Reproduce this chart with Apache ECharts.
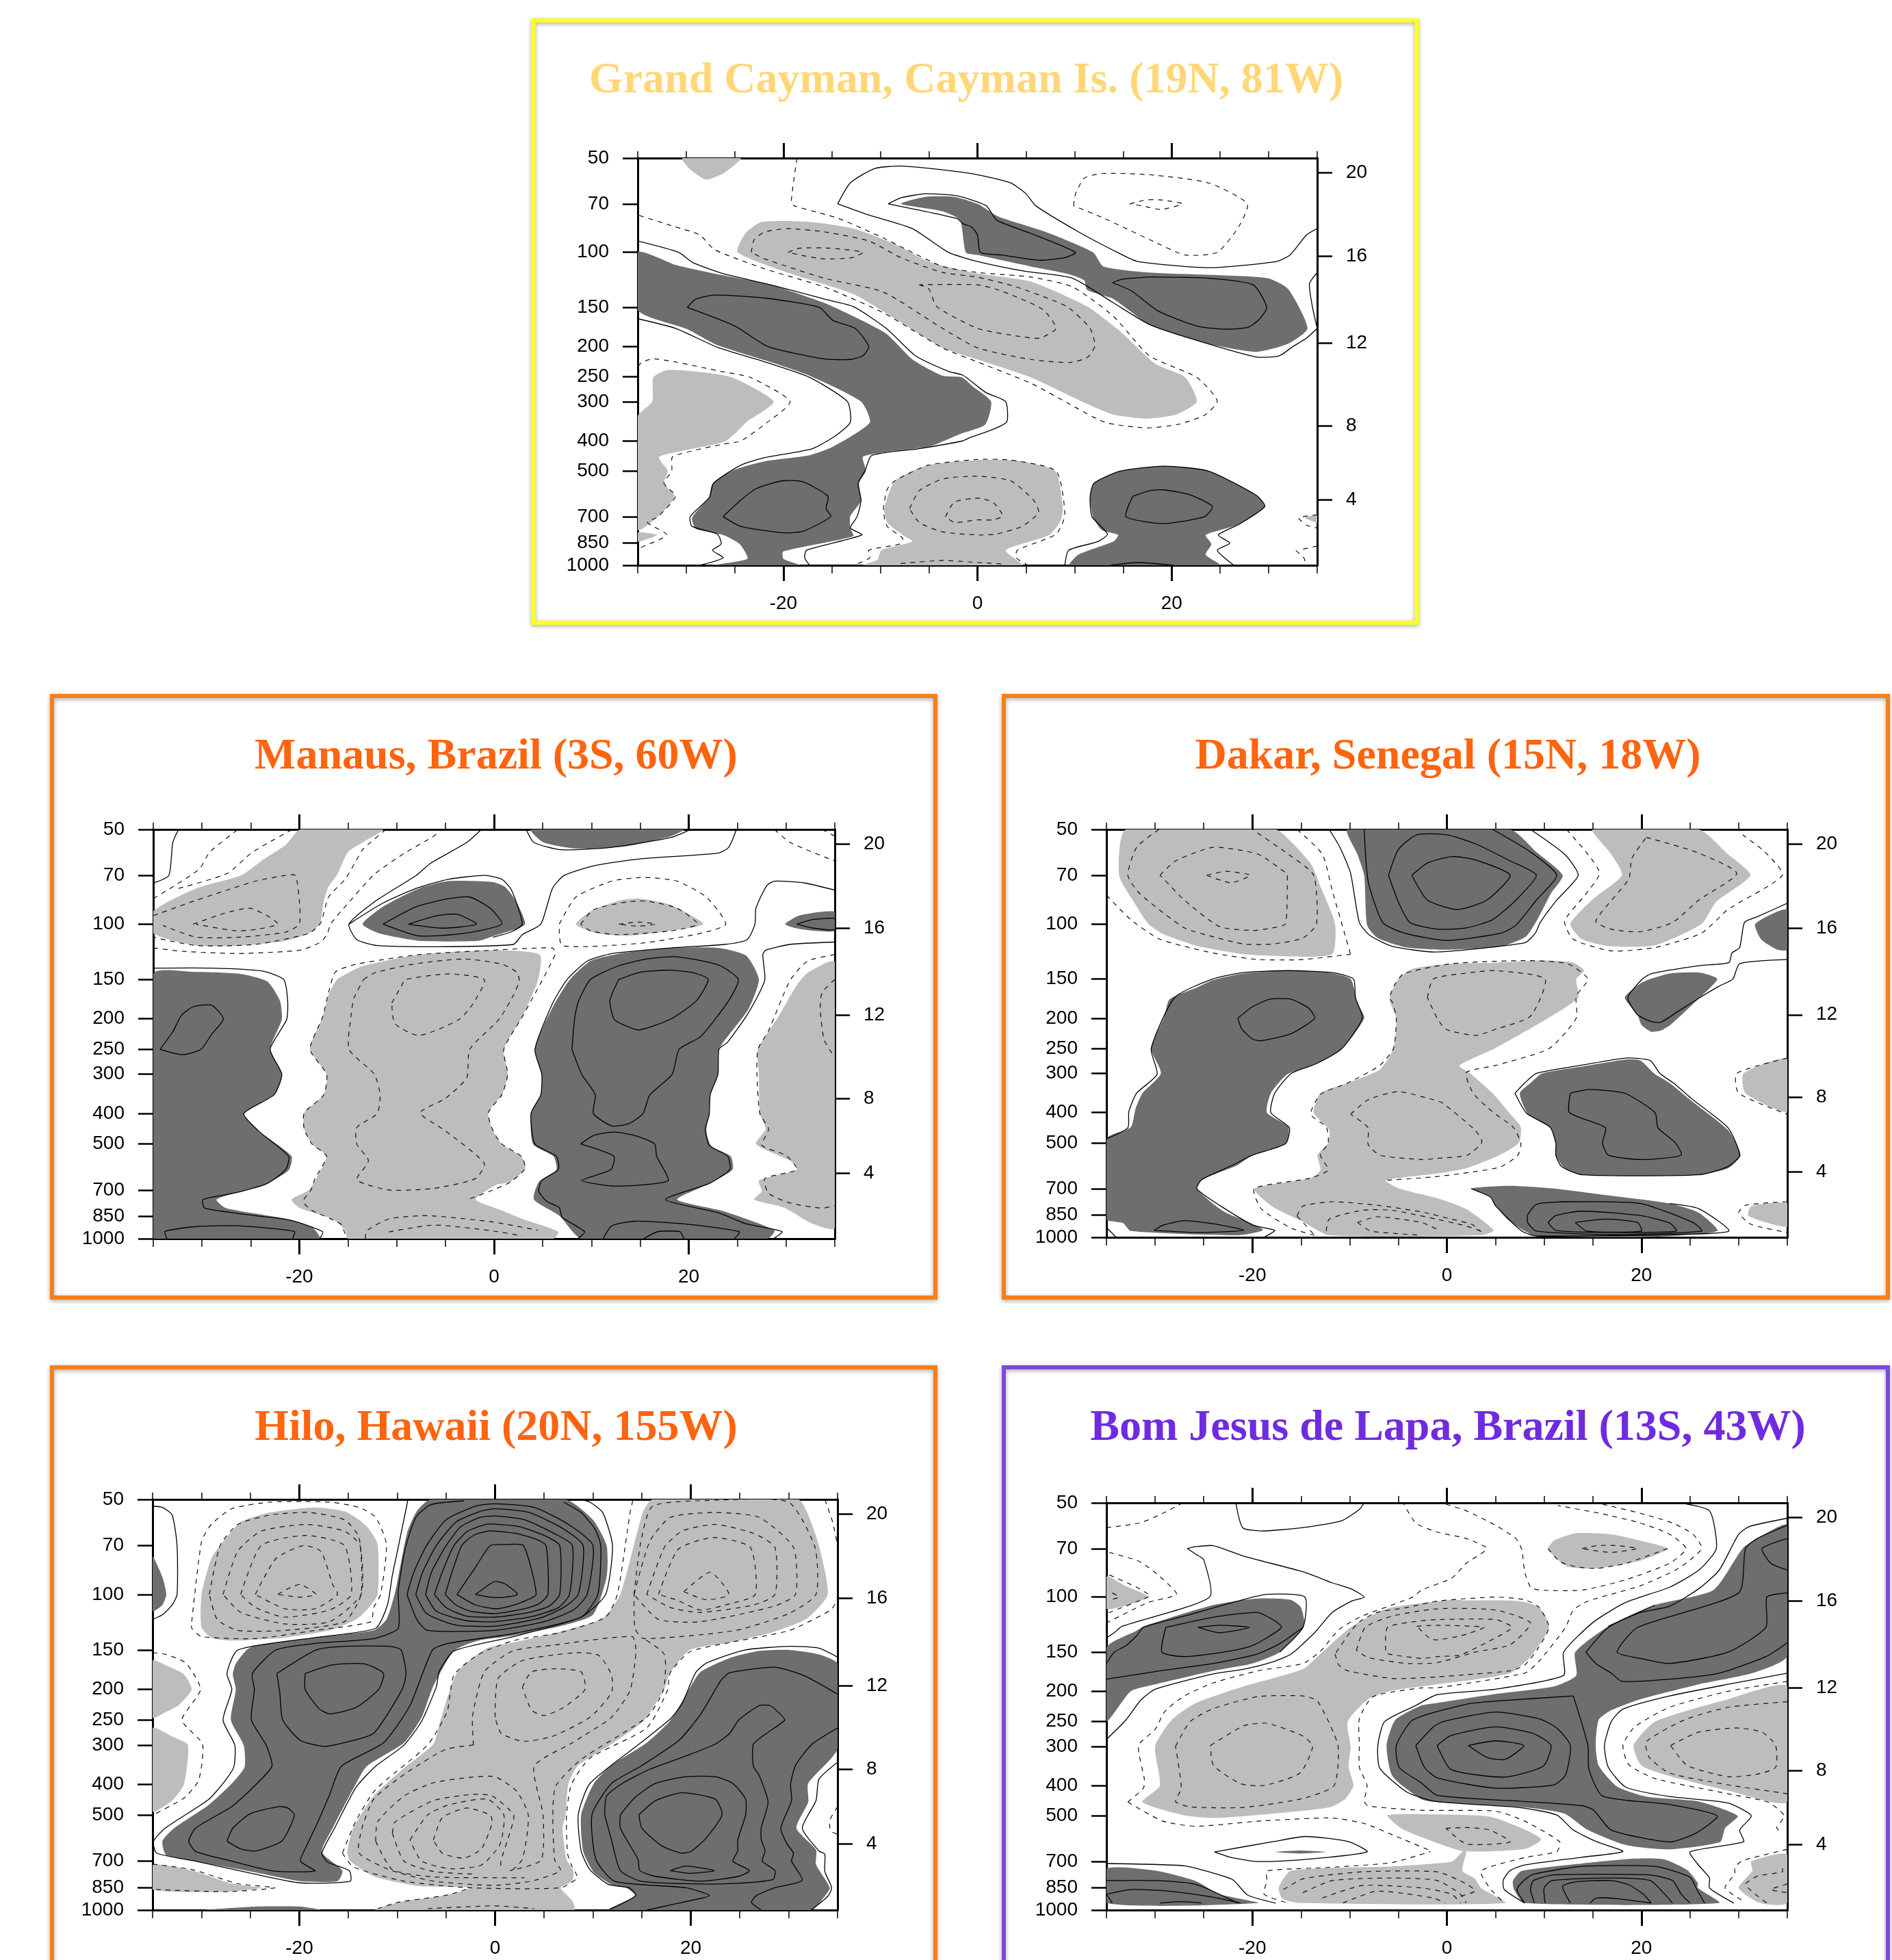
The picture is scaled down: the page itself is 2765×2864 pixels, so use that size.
<!DOCTYPE html>
<html><head><meta charset="utf-8"><style>html,body{margin:0;padding:0;background:#fff}#c{width:2765px;height:2864px}</style>
<script src="https://cdn.jsdelivr.net/npm/echarts@6/dist/echarts.min.js"></script></head><body><div id="c"></div>
<script>
const lagMajor=[-20,0,20];
const pressureTicks=[50,70,100,150,200,250,300,400,500,700,850,1000];
const heightKm=[4,8,12,16,20];
const heightPressure=[618,358,195,103,55.6];

const caymanDark=[
[-35,100,-31,110,-26.5,118,-21.3,127,-15.8,145,-12.8,160,-9.4,182,-6.7,220,-3.6,248,-1.6,251,-.5,268,1.4,300,.8,355,-1.8,381,-4.8,416,-9.4,435,-11.8,450,-11.5,500,-12.2,546,-12,622,-13.1,697,-13.1,761,-12.8,807,-20,903,-20,953,-18.3,1000,-27.3,1000,-23.7,953,-24.5,855,-26.2,800,-29,765,-29.4,705,-27.7,610,-27.3,550,-25,495,-21.9,465,-17.3,445,-14.9,418,-11.1,350,-12,300,-17.3,248,-21,226,-26.8,198,-29.9,176,-35,153],
[-7.9,70,-5.4,66.5,-2.4,66.5,0,70,2.2,77,7,86,11.9,100,13,111,17.7,116,23.8,118,29.9,121,32,131,34,175,32,196,28.7,208,23.8,196,17.7,170,14,141,11.3,132,11,123,9.2,117,5.5,111,0,102,-1.2,100,-1.8,79,-3.6,74],
[12,547,14.7,500,19.2,482,23.8,500,28.7,597,29.6,649,26.9,741,23.5,800,24.1,855,23.5,925,25,1000,9.5,1000,10.4,925,14,840,14.5,800,12.8,772,11.9,699,11.6,606]];
const caymanLight=[
[-30.4,50,-29.7,54,-28,58.5,-26.2,56,-24.4,50],
[-24.7,100,-23.9,87,-22.2,80,-17.3,80,-12.8,84,-8.2,95,-5.1,107,-.6,116,5.5,124,11.3,149,14.7,179,18.3,227,21.4,251,22.6,300,20.5,330,17.4,340,14,330,11,302,5.5,251,0,220,-3.6,202,-8.2,165,-12.8,136,-18.9,118],
[-35,335,-33.5,300,-33.4,251,-32,238,-29.3,240,-25.3,251,-21,300,-23.8,349,-26,402,-32.8,450,-31.9,500,-32.3,547,-31.2,602,-32.9,699,-35,770],
[-35,785,-33,800,-35,840],
[-9.6,659,-8.5,537,-5.1,479,0,461,4,463,8,500,8.8,649,8.6,716,7.4,800,2.9,895,4.6,1000,-11.8,1000,-10.3,960,-9.9,895,-6.7,840,-7.7,800,-9.3,730],
[33.7,705,35,690,35,730]];
const caymanSolid=[
[-14.4,70,-13.1,60,-10.6,54,-7.9,53,-3.6,54.5,0,56.5,3.4,60,5,65,6,71,10.4,86,14.4,100,16.5,107,23.8,112,30.8,107,32.2,102,33.9,88,35,84],
[-14.4,70,-11.2,76,-6.7,84,-3,100,0,107,4.9,115,9.8,121,14,145,17.7,170,22.3,190,28.7,216,31.1,214,32.5,200,33.9,188,35,175],
[35,116,34.2,126,34.5,149,35,175],
[-9.2,70,-7.9,67,-5.4,65,-2.1,66,.9,71,2,79,5.5,87,10.1,100,9,104,6.4,106,2.5,102,.3,100,0,88,-.6,83,-1.5,81,-2.1,78,-9.2,70],
[13.9,125,14.9,122,17.7,120,23.8,121,28.4,127,29.8,150,29,164,27.8,174,25.3,176,22.6,172,18.6,154,15.9,133,13.9,125],
[-35,92,-30.8,100,-29.3,108,-26.2,117,-21.3,127,-15.8,141,-12.8,149,-9.4,175,-6.4,214,-3,240,-1.5,247,0,268,.9,281,2.9,300,3,349,.9,375,-.6,389,-1.6,401,-6,424,-10.9,446,-11.6,500,-12.3,547,-12,620,-12.4,699,-13.1,760,-11.9,800,-17.6,895,-17.8,947,-17.3,1000],
[-35,163,-31.1,175,-26.8,201,-21.9,224,-17.3,251,-13.4,300,-13.1,349,-14.6,385,-17,424,-21.9,453,-24.4,479,-27.2,547,-27.6,606,-29.6,699,-29.4,751,-26.8,795,-26.4,855,-27.3,895,-26.2,947,-28.6,1000],
[-29.9,150,-29,141,-27.1,137,-21.9,140,-16.3,150,-14.9,165,-12.6,175,-11.2,200,-11.8,214,-13.1,220,-15.8,219,-21.6,200,-25,172,-29.9,150],
[-26.2,699,-24.4,620,-22.8,569,-20.1,537,-18,541,-15.4,602,-15.6,659,-15.1,699,-18,779,-20.1,787,-24.4,751,-26.2,699],
[16,602,17.7,578,19.2,574,22,597,24.2,649,23.4,699,19.2,736,15.3,699,16,602],
[9,1000,9.4,895,12.4,840,13.4,795,11.8,699,11.6,606,12,547,14.7,500,19.2,482,23.8,500,28.7,597,29.6,649,26.9,741,24.8,800,26,850,24.7,895,26.4,1000],
[13.7,1000,16.5,980,20.2,1000]];
const caymanDash=[
[-18.6,50,-19.2,69.5,-18.9,71,-14.3,78,-9.7,90,-7.3,98,-3.6,111,0,116,5.5,120,9.8,129,14,160,17.7,214,22.6,251,24.7,298,23.5,330,20.8,354,17.4,364,13.1,349,9.2,302,5.5,262,0,224,-3.6,202,-9.7,156,-15.8,129,-21.9,113,-27.1,98,-28.6,88,-31.1,83,-35,76],
[-23.3,100,-23,91,-21.9,86,-19.5,84,-15.8,86,-11.2,92,-7.9,104,-3.6,116,0,120,4,129,9.2,149,11.6,175,12.1,199,11.3,217,9.5,225,5.5,220,0,202,-3.6,175,-9.7,134,-15.8,121,-21.9,105,-23.3,100],
[-19.5,100,-18.3,97,-15.2,97,-11.8,100,-12.9,104,-15.8,105,-18.3,102,-19.5,100],
[-6,127,-5,131,-4.2,149,0,175,4,185,6.4,188,8.1,175,6.7,152,2.5,133,0,127,-6,127],
[9.9,71,10.1,65,11,58,12.8,56,17.7,56.5,23.8,60,27.8,70,26.9,83,24.7,100,21.4,102,17.7,91,13.1,78,9.9,71],
[15.7,70,17.4,68,18.9,68,21.1,70,18.9,73,17.4,71.5,15.7,70],
[-35,232,-34.6,225,-33.5,219,-31.1,224,-26.5,240,-23.4,251,-19.3,300,-21.9,354,-24.4,401,-26.2,410,-31.4,450,-31.5,500,-32.3,547,-31.1,602,-32.9,699,-34,730,-32,800,-35,885],
[-12.3,987,-11.1,947,-11.2,895,-8,855,-7.7,820,-9.3,751,-9.7,668,-9.3,572,-8.5,537,-5.1,479,0,459,3.4,461,8.1,500,9,690,8.1,795,4.1,895,4,947,5.2,1000],
[-7,659,-6,578,-3.6,530,0,519,3.4,537,5.8,620,6.3,678,4.6,751,1.9,795,0,800,-3.6,782,-6,730,-7,659],
[-3.3,699,-2.4,629,0,610,1.6,629,2.6,695,1.6,716,0,716,-2.4,730,-3.3,699],
[-7.9,987,-3.6,965,0,980,2.5,990],
[35,690,33.1,705,33.9,745,35,760],[32.8,897,33.7,955,33.6,1000],[35,868,33.4,890]];

const manausDark=[
[-35,144,-30.6,142,-26,144,-23.3,152,-22,175,-21.8,201,-23,250,-21.8,300,-22.6,349,-25.7,400,-24.2,454,-20.8,547,-21.1,606,-23.3,668,-26.3,712,-28.5,751,-27.5,800,-21.3,865,-18.6,925,-17.9,1000,-35,1000],
[-13.5,100,-11.4,88,-7.7,77,-4.7,73,-.1,73.5,1.1,76,2.2,84,3.2,100,1.7,105,0,109,-1.6,113,-7.7,113,-11.8,107],
[3.8,50,5.1,55,8.4,57.5,13.6,56.5,18.2,52.5,19.5,50],
[6.4,175,7.8,150,9.9,131,13,124,18.2,119,23,119,25.9,126,27.2,150,26.1,187,23.1,250,23,300,22.2,349,22.1,403,21.8,454,22.3,507,24.3,547,24.5,603,22.1,668,18.8,751,23.7,820,28.8,940,28.1,1000,9,1000,6.7,845,4.1,751,4.6,660,6.4,603,6.1,547,4,500,3.8,400,4.8,349,4.9,300,4.2,250,5.2,207],
[29.9,100,31.3,94,33.4,91.5,35,91.5,35,105,32.8,105,31,103]];
const manausLight=[
[-35,91,-30.6,77,-26,70,-23.9,63,-21.4,56,-19.9,50,-11.4,50,-13.5,55,-15,59,-16.1,69.5,-17,76,-17.5,85,-17.9,100,-19,107,-21.4,113,-26,117,-30.6,117,-35,107],
[-16.1,150,-13.5,136,-7.7,125,-.1,121,4.7,125,4.5,151,2.9,197,1,250,1.4,300,.8,349,-.6,398,-.1,454,.8,500,2.8,547,3.2,598,1.7,660,.2,675,-1.9,751,1.1,820,2.9,865,6.6,950,6.1,1000,-15,1000,-15.3,940,-16.6,865,-19.9,800,-20.8,751,-19,700,-18.2,637,-17.2,547,-18.7,500,-19.5,448,-19.5,398,-17.5,349,-17.2,300,-18.9,250,-17.6,197,-17,168],
[8.4,100,10.2,90,13,84,15.1,83,18.2,87,21.5,100,18.2,105,13.6,109,10.5,107],
[35,132,32.2,143,31,158,29.2,197,27.1,250,27.2,300,27.3,400,27.9,448,26.9,500,30.4,565,31.1,603,27.2,653,27.5,707,26.7,751,29.8,797,32.7,896,35,925]];
const manausSolid=[
[-32.4,50,-33,55,-33.4,70,-35,74],
[-35,138,-29,138,-23.8,141,-21.6,150,-21.2,175,-21.3,201,-23,250,-21.8,300,-22.6,349,-25.7,400,-24.2,454,-21.1,547,-21.4,603,-23.3,668,-26.3,712,-29.9,751,-29.7,800,-24.5,845,-20.8,875,-17.6,950,-17.9,1000],
[-34.3,250,-33,220,-32.1,195,-30.9,183,-29,181,-27.8,200,-29,224,-30.1,250,-32,260,-34.3,250],
[-33.6,1000,-33.8,948,-30.6,915,-26.3,910,-20.5,948,-20.7,1000],
[-1.3,50,-2.8,55,-6.5,64,-8,70,-12.3,85,-14.9,100,-14.1,112,-12,117,-6.2,118,2,116,2.9,108,4.8,100,6,77,7.2,70,10.5,65,15.1,62,23,59.5,24.1,57,24.9,50],
[-14.9,100,-11.5,86,-8,77,-4.7,72,-1,70,.8,72,1.8,78,2.9,100,1.7,106,-.1,110],
[-11.4,100,-8,88,-4.7,83,-2.5,82,-.4,89,.8,100,-3.1,107,-7.7,109,-11.4,100],
[-8.8,100,-5.9,94,-3.8,93,-1.8,100,-5.3,103,-8.8,100],
[3.3,50,4.1,55,6.9,58,12.1,57,18.2,53,20.2,50],
[35,78,31.9,74,28.8,73,28,75.5,26.9,89,26.8,100,26,112,23.7,116,18.2,119,12.1,124,9.6,131,7.5,150,6,179,4.2,250,4.9,300,4.8,349,3.8,400,4.2,500,6.4,547,6.6,603,4.9,653,4.6,707,5.4,760,6.7,797,7,855,9.3,950,8.6,1000],
[35,114,30.4,116,27.9,121,27.6,125,27.8,151,26.1,192,24,237,23.1,250,23,300,22.2,349,22.1,403,21.7,448,22.1,505,24,547,24.2,603,22.1,668,17.6,751,23.1,828,25.8,895,29.6,950,28.7,1000],
[8,250,8.3,197,8.7,175,9.9,150,12.7,136,15.7,129,18.8,127,23.1,135,25.1,150,24,177,21.2,228,19,250,18.3,300,16,349,15.3,400,13.9,430,12.1,438,10.2,400,10.4,349,9,300,8,250],
[12.8,150,15.1,142,18.2,140,20.6,143,22,150,20.8,175,18.2,200,14.9,217,13,207,12.3,200,11.9,175,12.8,150],
[8.9,500,10.2,470,12.3,458,14.5,470,16.5,500,16.7,547,17.9,653,15.1,675,12.1,680,9,653,12,603,12.3,547,8.9,500],
[11.2,1000,12.1,910,14.5,880,19.7,898,25.2,950,24.7,1000],
[15.4,1000,16.8,950,19.1,950,19.5,1000],
[31.1,100,32.5,97,34,96,35,96,35,104,32.8,103,31.1,100]];
const manausDash=[
[-35,83,-30.3,67,-29.2,59,-26.3,50],
[-32.4,77,-27.4,69,-24.8,59,-20.7,50],
[-35,119,-32,122,-26.3,124,-19.9,121,-17.8,114,-17.1,107,-16.8,100,-15.3,88,-12.3,69.5,-9.2,59.5,-6,52,-5.9,50],
[-11.1,50,-13.5,58,-14.3,64,-15.3,72,-17,82,-17.8,99,-19,107,-24.5,116,-30.6,117,-35,110],
[-35,94,-30.6,84,-24.5,73,-21.4,70,-20.4,70,-20,84,-20,100,-21.4,106,-26,110,-30.6,110,-34,101],
[-30.9,100,-27.5,92,-25.1,89,-23.3,94,-22.2,100,-24.5,104,-26.6,105,-30.6,100],
[-15.3,965,-15.8,895,-18.8,810,-19.6,760,-18.8,700,-18.4,645,-17.2,547,-18.7,500,-19.5,448,-19.5,398,-17.5,349,-17.2,300,-18.9,250,-17.6,197,-17,165,-16.3,142,-14.1,134,-7.7,125,-.1,121,6,119,6.3,124,5.7,136,4.6,158,2.9,197,1,250,1.4,300,.8,349,-.6,398,-.1,454,.8,500,2.8,547,3.2,598,1.7,660,-.1,700,-2.7,751],
[-13.4,150,-12.3,143,-8.3,134,-3.1,129,.8,134,2.3,142,2.6,151,2,168,.5,201,-2.5,250,-2.8,308,-5,358,-7.6,398,-5,454,-1,576,-1.9,644,-6.2,692,-10.8,700,-14.1,650,-12.9,565,-14.1,500,-14.1,443,-12,400,-11.7,349,-12.3,300,-14.9,250,-14.7,197,-14.4,172,-13.4,150],
[-10.5,178,-9.5,157,-9.1,150,-4.7,144,-1,150,-2.1,178,-3.6,201,-7.7,226,-10.2,207,-10.5,178],
[-13.2,1000,-13.1,945,-10.8,865,-6.8,845,-.1,885,4.5,940],
[-10.8,952,-6.2,905,-.1,945,2.9,980],
[35,125,32.2,131,30.4,151,28.2,218,27.1,250,27,300,27.3,400,28.2,448,27.5,505,30,544,31.1,603,27.8,644,28.2,718,30.4,770,33.7,800,35,785],
[35,150,33.7,165,33.5,185,33.9,233,35,265],
[28.8,50,30.4,55,35,63],[33.7,50,35,52.5],
[6.7,100,8.4,82,12.1,73,15.4,71,18.8,73,21.8,82,23.8,100,21.2,107,15.1,115,7,117,6.7,100],
[8.9,100,10.2,90,13.6,85,15.7,84.5,18.8,89,20.9,100,18.2,105,12.7,108,9.9,105,8.9,100],
[12.8,100,14.8,98.5,16.6,100,14.8,101.5,12.8,100]];

const dakarDark=[
[-35,485,-32.5,445,-32,388,-31.3,347,-29.4,300,-30.4,250,-29.1,200,-28.5,174,-25.8,160,-24,151,-20.9,144,-16.3,141,-12.3,143,-9.9,150,-9.2,179,-8.5,200,-10.8,250,-13.5,280,-16.4,302,-18.1,347,-18.5,400,-16.3,445,-16.6,503,-20,547,-21.6,590,-25.1,654,-25.7,700,-23,825,-18.9,945,-21.5,985,-32.5,955,-33.3,900,-35,875],
[-10.2,50,-9.2,60,-8.5,70,-8.2,101,-7.1,111,-4.1,119,0,121,5.6,118,8.1,110,9.3,97,10.7,80,11.9,70,9.2,59,6.5,50],
[31.7,100,35,90,35,121,34,121,32.3,112],
[18.3,172,19.9,155,20.9,150,22.9,144,25.9,143,27.8,150,26,172,23,210,22,219,21,221,20,210,19.6,195],
[7.5,347,8.6,322,9.8,300,14,285,18.4,271,19.9,273,21.3,300,22.9,322,25,364,28.9,455,30.2,547,28.9,602,25.9,632,13.9,632,12.1,602,11.2,547,11.2,505,10.7,450,8.3,402],
[2.5,699,6.5,685,11,699,16.9,737,22.9,780,25.9,835,27.8,955,20,1000,9.2,990,8,955,6.2,875,5,793,4.5,745]];
const dakarLight=[
[-33,50,-33.7,70,-32.2,85,-30.7,100,-29.1,108,-25.5,118,-20.9,125,-16.3,127,-11.8,125,-11.5,100,-13,76,-13.9,65,-15.7,56,-17.6,50],
[-5,150,-3.5,139,.5,134,5,133,10,131,13,133,14.1,141,13.3,150,13.5,172,10.4,200,5,249,1.3,283,2.4,300,4.7,347,6.6,407,7.6,445,7.4,500,5.4,547,2,602,-1,626,-6.3,658,-4.9,699,-1,750,2,813,4.8,950,3.6,985,-12.1,985,-14.8,892,-17.9,800,-19.8,699,-14,647,-13,610,-13.3,547,-12.2,500,-12.1,455,-13.7,400,-13,347,-10.2,322,-6.9,292,-5.5,250,-5.2,200,-5.9,174],
[15,50,16.9,60,18,70,15.1,83,12.7,100,13.9,112,16.9,118,21.4,117,26.2,100,27.7,85,31.2,70,28.9,60,25.9,50],
[35,270,30.5,300,30.7,347,35,397],
[35,780,31.3,795,31,855,35,925]];
const dakarSolid=[
[-35,485,-32.8,447,-32.7,397,-31.9,347,-29.8,302,-30.4,250,-28,172,-24.1,150,-20.9,143,-16.3,141,-11.8,143,-9.6,150,-9.4,172,-8.7,200,-10.8,250,-13.5,280,-16,300,-17.7,347,-18.1,400,-16.2,447,-16.6,503,-20,547,-22.1,590,-25.2,654,-25.7,700,-23.3,793,-19.9,915,-17.7,950,-18.8,1000],
[-35,930,-34,1000],
[-21.5,200,-20,184,-18.2,174,-16,174,-14.2,186,-13.6,200,-16,224,-19.1,236,-20,233,-21.1,216,-21.5,200],
[-30.1,950,-29.2,915,-27,885,-24,905,-20.9,950,-25.5,965,-30.1,950],
[-12.1,50,-11,57,-9.9,69,-9,99,-7.9,109,-5.6,118,-1.1,123,8,115,9.1,107,9.6,99,11.3,84,13.5,70,12.1,60,8.6,50],
[-8.5,50,-8.1,73,-6.6,99,-4.4,107,0,113,5.6,107,7.1,101,9.2,84,11.3,70,8.6,59,4.7,50],
[-6,70,-5,58,-3.1,52,0,52,2.9,55.5,6.5,63,9.2,70,7.1,84,4.7,97,2,103,-1,104,-3.8,99,-5,85,-6,70],
[-3.6,70,-2,64,.5,61,2.9,62.5,6.5,70,4.1,84,1.1,90,-2,84,-3.6,70],
[35,86,31.9,95,30.6,99,30.1,119,29.3,124,29,133,25.9,136,21.1,144,20.1,150,18.6,172,19.6,195,21,205,22,206,23.8,190,26,172,28,158,29.4,150,30.1,134,35,130],
[7,347,8,322,9.2,300,14,282,18.4,268,20.9,273,21.9,300,23.3,322,25.3,364,28.9,447,30.1,547,28.9,595,25.9,632,13.9,632,11.8,595,11.2,547,11.2,500,10.6,445,8.2,402,7,347],
[12.7,347,14.5,338,16.3,340,18.4,348,21.4,400,21.7,447,23.5,500,24.1,547,20,565,16.6,547,16,500,16.3,447,12.6,400,12.7,347],
[2.5,699,4.5,745,5,793,7.7,955,9.2,990,22.9,980,29,955,25.9,810,22.9,780],
[8.3,847,9.2,785,12.4,770,19.9,780,25.3,897,26.2,955,16.9,980,9.2,955,8.3,897,8.3,847],
[10.4,897,11.2,852,13.9,825,19.9,852,22.9,900,23.6,955,16.9,965,11.2,950,10.4,897],
[13.2,897,16.3,875,19.6,897,20,955,14.4,955,13.2,897]];
const dakarDash=[
[-35,81,-32.5,97,-29.5,112,-24,124,-19.4,130,-14.8,130,-9.9,125],
[-29.6,50,-31.9,57,-32.8,70,-31.6,80,-27,103,-24,110,-20.9,116,-17.9,116,-14.8,111,-13.4,100,-13.7,70,-16.3,60,-20,50],
[-29.5,70,-27.9,63,-24,57,-19.4,60,-16.5,69,-16.4,70,-16.6,100,-17.9,103,-20,105,-23.4,102,-27,84,-29.1,72,-29.5,70],
[-24.7,70,-22.7,68,-20.2,70,-22.2,74,-24.7,70],
[-15.4,50,-12.8,60,-11.8,78,-9.9,125],
[12.3,50,14.5,60,15.7,69,14.2,81,12.1,98,13,112,16.9,122,21.4,119,26.2,107,28.9,90,34.5,70,32.7,59,30.4,52],
[20.5,53,25.6,59,29.8,69,25.9,84,23.2,99,19.9,106,16.9,104,15.3,98,18.7,72,19,62,20.5,53],
[-13.6,985,-16,935,-19.1,810,-19.8,699,-14,647,-12.2,610,-13,547,-12.2,500,-12.4,445,-14,405,-13,350,-10.2,322,-6.9,283,-5.5,250,-5.2,200,-5.6,178,-5.9,172,-5.3,155,-4.4,144,.5,134,8,131,12.4,134,14.5,150,13.3,170,13.3,200,10.5,250,5,283,2,298,2.7,347,4.7,398,6.8,445,7.6,500,7.3,547,5.4,598,-1,640,-6.3,658],
[-2,172,-1.4,150,2.5,143,5,141,10.1,150,8.6,197,5,217,2.9,227,-.1,217,-1,200,-2,172],
[-9.9,405,-8.1,364,-5,343,-1.4,364,-.5,372,2.9,455,3.6,497,2.1,547,-1,560,-2.6,565,-6.9,547,-8.1,505,-8.1,447,-9.9,405],
[-15.4,855,-14.8,795,-11.8,770,-7.2,790,-2.6,830,.5,875,2.6,910,3.5,960],
[-15.4,855,-13.6,985],
[-12.4,955,-12.1,875,-8.7,820,-5.6,820,-1.1,875,1.7,915,3.5,955],
[-9.2,897,-7.2,860,-2.6,897,-.8,950],[-9.2,897,-7.8,955,-2.6,985],
[35,268,29.8,300,30,347,35,405],
[35,770,30.7,790,30,835,31.3,910,35,965]];

const hiloDark=[
[-6.6,50,-8,54.5,-9,64,-10.2,98,-11.1,120,-12.4,130,-18.4,137,-24.5,145,-25.4,150,-26.5,166,-26.8,179,-26.5,200,-27,250,-25.7,300,-25.6,352,-26.9,397,-29.3,465,-32.8,550,-34,605,-33.6,670,-30.6,700,-24.5,760,-19.9,810,-16.1,810,-15.6,750,-17.7,655,-16.6,550,-14.2,397,-13.1,350,-9.3,295,-7.5,245,-6.3,195,-4.2,151,-1.7,140,1.9,135,6.7,126,10,116,11.4,88,11.4,70,10,58,7.2,50],
[35,166,33.1,155,30.1,150,27,151,24,159,21,176,19.7,203,17.9,251,15.5,295,11.9,348,10.1,397,8.8,499,9,650,10.1,760,11.9,830,13.4,850,14.3,900,11.6,1000,32.3,1000,33.6,912,34.2,850,32.8,717,32.8,645,30.8,550,32,455,32,397,35,308],
[-35,76,-34,88,-33.6,100,-34,108,-35,113],
[-29.7,1000,-24.5,975,-19.9,975,-17.8,1000]];
const hiloLight=[
[-30,127,-30,100,-29,77,-27.8,68,-26,59,-23,55,-18.4,53,-15.4,54.5,-13.9,58,-12.9,62,-12,69.5,-12,100,-13,111,-14.2,120,-16.9,130,-21.5,137,-27,140,-29,137],
[-35,162,-33.6,168,-31.8,179,-31,200,-32.4,225,-33.9,238,-35,246],
[-35,265,-33,282,-31.4,300,-31.8,400,-33,450,-35,487],
[-35,720,-30.9,750,-26.9,825,-23.9,850,-27.5,875,-35,860],
[-15.1,655,-14.5,550,-12.4,435,-9.3,355,-6.3,298,-5.7,258,-3.9,177,-.8,148,1.9,142,6.7,131,11,119,12.8,100,15.1,55,16.1,50,31,50,31.9,55,33.1,70,34,100,31.9,119,28.6,131,24,142,19.9,150,17.9,177,17.3,199,15.2,251,11.9,298,8.5,348,7.5,397,7.2,500,6.9,550,7.3,691,8,750,7.9,810,6.7,850,7.9,935,8.1,1000,-12.2,1000,-9.9,945,-4.8,895,-2.5,850,-7.8,840,-12.4,782,-14.8,700]];
const hiloSolid=[
[-8.9,50,-9.9,71,-10.5,87,-11,108,-12.2,128,-18.4,137,-26.3,150,-27.4,178,-26.9,200,-27.8,250,-26.6,300,-26.7,352,-27.8,397,-29.3,447,-33.7,550,-34.9,605,-34.6,660,-30.6,700,-24.5,770,-19.9,820,-14.8,810,-14.9,750,-17.1,705,-17.7,660,-16.4,550,-14.2,408,-12.2,350,-9.3,300,-7.5,252,-6,196,-5.7,175,-4.2,151,1.9,136,8.8,118,11.3,100,12,70,11,55,9.7,51,8.8,50],
[-3.2,50.5,-6.6,52,-8.1,57,-9.2,72,-9.9,98,-9.9,128,-12.4,138,-18.4,143,-22.4,150,-24.8,178,-24.6,200,-24.9,250,-23.4,300,-22.8,350,-24.5,402,-26.9,470,-30.6,550,-31.3,605,-30.6,652,-26.9,700,-22.7,752,-18.4,752,-19.9,700,-19.3,630,-18.1,525,-16.9,430,-15.7,350,-11.4,295,-8.7,225,-6.4,150,-4.8,143,1.9,133,8.8,118,10.5,100,10.8,70,10.2,62,8.8,55,7,51],
[-9,100,-8.3,85,-7,70,-5,58,-2,52.5,0,51.6,4,53,7.5,60,10,70,9.4,100,8,112,5,122,0,130,-6.9,130,-8,120,-9,100],
[-8.1,100,-7.4,85,-6,70,-4,59,-1.5,54.5,0,53.5,3.5,55,7,62,9,70,8.5,100,7,110,4.5,119,0,126,-4,125,-7,115,-8.1,100],
[-7.1,100,-6.5,85,-5,70,-3.5,61,-1.5,57,0,56.4,3,58,6,64,7.9,70,7.6,100,6.5,110,4,117,0,122,-3,121,-6,113,-7.1,100],
[-6.2,100,-5.4,85,-4.2,70,-2.8,63,-1,60,0,59.9,2.5,61,5,65,6.6,70,6.6,100,5.5,109,3.5,114,0,118,-3,117,-5,110,-6.2,100],
[-5.1,100,-4.4,85,-3.4,70,-2.2,65,-.8,63,0,63,2,64,4,66.5,5.2,70,5.4,100,4.5,107,3,111,0,115,-2.5,113,-4,108,-5.1,100],
[-3.9,100,-2,82,-.5,70,1,69.5,2.9,70,4.2,100,3,105,1.5,109,0,111,-2,108,-3.9,100],
[-2,100,-.8,94,0,91,1,92.5,2.3,100,1,102,-.5,102,-2,100],
[-22.3,178,-18.3,150,-15.4,146,-10.8,146,-9.6,150,-9.1,178,-9.5,200,-12.4,275,-15.4,295,-17.5,303,-19.9,290,-21.7,250,-22,205,-22.3,178],
[-19.4,178,-16.6,167,-13.3,166,-11.4,178,-11.9,200,-14.2,228,-16.9,239,-18,230,-19.4,200,-19.4,178],
[-27.4,605,-26.8,550,-25,495,-22.1,470,-21.2,475,-20.5,500,-21.8,605,-24.5,650,-26,640,-27.4,605],
[35,158,33.1,148,30.1,146,25.5,150,21.6,165,20.5,177,19.1,222,17.9,248,14.9,295,9.7,397,8.5,499,8.8,650,9.7,745,11.6,830,13.7,850,14.4,900,11.6,1000],
[35,207,31.6,181,28.6,170,24,177,23.1,187,21,240,18.8,290,14.9,350,11.9,397,9.9,499,10.3,690,12.2,810,19.5,850,21.9,900,19.2,945,15.5,1000],
[35,265,32.4,298,30.7,348,30.2,400,30.3,450,29.2,550,29.8,615,30.5,660,30.3,700,31.4,805,28.6,850,26.7,900,26.2,945,27.2,1000],
[11.2,499,11.4,435,13,397,15.8,358,19.5,325,22.5,298,24,275,24.9,250,27,225,28.1,225,29,237,29.6,250,28,272,26.4,298,26.4,350,27,375,27.9,455,27.2,550,27.2,598,27.6,650,27.3,700,28.6,750,28.4,800,24,825,19.5,825,14.9,810,12.8,750,11.9,600,11.2,499],
[12.8,499,14.3,440,16.4,397,19.5,378,22.5,378,24.3,397,25.6,445,25.6,499,24.8,600,24.8,650,24.3,700,26,750,24.9,782,21,810,16.4,782,14.8,750,14.6,690,12.8,550,12.8,499],
[14.7,499,16.4,450,19.1,425,22.5,445,23.2,499,21.6,590,20.1,650,19,660,17,625,15,550,14.7,499],
[17.9,750,19.5,725,22.4,750,20,765,17.9,750],
[35,340,33.1,385,32.8,450,31.4,550,33.1,650,33.7,665,33.7,755,34.4,850,34,905,32.3,1000],
[-35,52.5,-34,53,-33,56,-32.5,70,-32.5,100,-33,108,-34,116,-35,120]];
const hiloDash=[
[-31,122,-30,68,-29,60,-26.9,53.5,-23,51,-16.9,51,-13.9,53,-12.2,57,-11.1,69.5,-11.7,100,-12.4,110,-12.7,122,-18.4,130,-24.5,138,-30,136,-31,128,-31,122],
[-29.2,100,-28.1,70,-26.3,60,-23,56,-19,55,-15.4,58,-13.9,66,-13.7,100,-15.4,122,-21.5,130,-26.3,130,-28.4,120,-29.2,100],
[-27.8,100,-26.3,73,-23.9,63,-19.3,60,-15.4,63,-13.8,70,-13.7,100,-16.9,122,-21.5,124,-26,114,-27.8,100],
[-26,100,-23.9,70,-19.3,65,-15.4,70,-14.7,100,-16.9,112,-21.5,118,-24.5,110,-26,100],
[-24.5,100,-22.4,77,-19.6,70,-17.8,73,-16.6,93,-16.1,100,-18.4,111,-21.5,111,-24.5,100],
[-22.2,100,-21.2,96,-19.9,93,-18.3,100,-19.9,102,-22.2,100],
[-35,153,-33.6,155,-31.6,165,-30.1,200,-32,250,-29.9,298,-30.3,388,-31.8,442,-35,500],
[-35,715,-30.9,745,-26.3,825,-22.5,850,-27.5,875,-35,860],
[-15.6,660,-14.2,520,-12.2,415,-6.9,300,-4.9,235,-4.2,180,-1.7,155,1.9,140,6.7,132,11.3,118,12.5,100,13.8,55,14.1,50],
[-15.6,660,-14.5,730,-9.3,810,-2.6,850,6.7,850,8.4,790,7.8,720,7.4,660,7.3,500,7.8,400,9.7,330,15.5,265,17.6,202,17.9,177,19.9,152,24,142,30.1,130,34.3,112,35,104],
[14.2,100,14.9,68,16.1,52.5,22.5,50.3,30,51,32.7,71,32.8,100,30,115,24.6,130,15.2,138,14.3,128,14.2,100],
[14.2,100,15.8,68,17.9,57,22.5,55,27,57,30.5,71,30.7,100,28.5,109,21,122,16.7,120,14.2,100],
[15.5,100,17.3,71,19.1,63,22.5,60,26.4,64,28.6,71,28.6,100,26.4,108,21,114,17.9,110,15.5,100],
[16.7,100,18.7,72,22.3,66,26.1,71,26.6,100,24,107,21,112,18.5,104,16.7,100],
[19.3,98,22,85,23.9,100,21.6,104,19.3,98],
[33.7,50,34.5,59,35,70],
[-2.2,300,-2.3,243,-1.1,176,1.8,151,5.8,145,14,136,14.4,151,13.8,201,11.9,245,7.9,295,4,350,4.9,500,4.7,695,1.5,750],
[-2.2,300,-5.1,310,-9.3,372,-12.4,445,-13.6,550,-13.9,660,-10.8,745,-6.3,810,-.2,835,3.7,810,6.7,750,6.1,695,5.9,500,6.2,405,8.8,333,15.5,245,17.2,201,17.3,155,15.2,138],
[0,245,.3,185,2.8,162,8.2,153,10.6,156,11.9,180,11.9,205,9.7,245,5.8,282,2.8,292,.6,275,0,245],
[2.8,197,3.7,176,6.4,172,8.8,176,9.2,200,7,228,5,242,3.7,232,2.8,197],
[-12.2,605,-12,525,-9.3,435,-6.3,395,-2.6,380,0,378,2.2,420,3.4,500,2.8,690,1.5,760],
[-12.2,605,-10.5,745,-6.3,785,-.2,790,3,790],
[-10.5,570,-10.2,525,-6.3,450,-2.3,430,-.3,435,1.9,500,1.5,570,.6,700,.6,750],
[-10.5,570,-9.3,700,-6.3,755,-2,770],
[-6.3,600,-5.4,510,-2.9,475,-.5,500,-.3,530,-1.4,640,-3.2,685,-5.4,660,-6.3,600],
[-8.7,600,-6.9,500,-4.8,465,-.8,445,.9,500,.5,620,-1.4,720,-4.5,740,-7.5,700,-8.7,600],
[-12,990,-9.9,945,-4.8,895,-2.5,850],
[-6.9,990,0,970,4,990],
[35,470,34.2,520,34.3,562,35,575]];

const bomDark=[
[-35,145,-31.9,128,-31.2,124,-24,106,-19.5,101,-16.1,102,-15,108,-14.7,124,-17.2,150,-20,163,-24,172,-30,190,-32.5,200,-35,249],
[-6.2,298,-5.3,247,-2.6,222,-1,218,5,204,11,193,13.3,178,13.2,150,16.6,124,21.4,106,27.4,95,30.4,70,31.9,65,35,59,35,154,31.4,175,25.9,190,19.9,212,16.9,230,15.6,247,15.3,298,15.6,345,17.5,403,20.5,434,25.9,450,29.9,500,28.6,548,28.1,606,22.9,640,18.4,620,14.5,555,12.1,492,8,470,-1,452,-2.6,443,-5.6,373],
[-35,738,-30,748,-25.8,808,-23.4,890,-19.4,950,-35,950],
[6.8,805,7.7,750,13.9,710,19.3,685,22.3,688,24.7,745,25.8,820,25.8,850,28,950,8,950,6.9,860],
[-17.7,652,-15.1,645,-12.4,652,-15.1,660]];
const bomLight=[
[-35,86,-33.1,92,-30.7,100,-35,109],
[-31.3,452,-29.5,400,-30,300,-28.3,247,-25.8,218,-20.9,193,-14.8,170,-13,152,-9.9,125,-6.2,109,.5,102,2,102.5,7.4,103,9.5,108,10.5,125,8.6,155,6.5,175,2,185,-1,190,-5.6,199,-8.1,212,-10.2,250,-9.9,300,-10.1,350,-9.6,400,-10.5,443,-12.1,470,-17.9,492,-24,508,-27,498],
[10.4,70,11,66,13.3,62.5,16.9,63,19.9,66,22.7,70,19.9,76.5,15.4,81,12.4,80,11,74],
[35,193,28.9,212,21.4,250,19.2,298,20,345,22.9,373,28.9,415,35,450],
[-6.1,498,-1.1,495,4.4,503,8,553,9.7,595,8,638,1.7,648,-2.6,585,-4.7,548],
[-16,748,-5.6,725,.5,700,1.4,660,1.7,648,2,651,1.6,750,2.9,795,3.5,850,6,950,-15.1,950,-16.9,920,-17.3,850],
[35,665,31.3,699,31.4,750,30,850,32.2,950,35,950]];
const bomSolid=[
[-21.7,50,-21,60,-19.1,61.5,-14.8,60,-10.8,57,-9,52.5,-8.5,50],
[-26.7,70,-25.8,69,-24,68.5,-20.9,74,-14.8,83,-11.8,90,-9.9,94,-8.5,100,-9.8,103,-11.8,112,-13.6,130,-16,152,-17.9,161,-20.9,170,-24,176,-30,197,-31.5,214,-33,247,-35,285],
[-26.7,70,-25.8,73,-25,76,-24.4,100,-33.4,124,-34.2,130,-35,135],
[-35,163,-34.2,150,-33,143,-31.9,133,-31.2,125,-27,115,-21.5,103,-18.5,98,-14.6,100,-14.8,125,-17.2,150],
[-35,183,-30,173,-24,163,-19.5,152,-17.2,141,-14.8,125],
[-28.9,125,-24,116,-19.5,112,-17.9,118,-17,125,-20,143,-23,150,-27,155,-29.3,150,-28.9,125],
[-25.6,125,-23.4,123,-20.3,125,-23.4,130,-25.6,125],
[-23.9,652,-17.9,605,-14.5,582,-10.1,605,-8.2,652,-14.8,690,-19.4,700,-22.1,680,-23.9,652],
[-35,710,-27,722,-24,762,-22,800,-20.5,895,-17.6,950],
[-35,805,-30,805,-25.8,828,-21.5,950],
[-35,890,-32.5,860,-28.6,870,-24,910,-21.2,950],[-35,890,-34.4,950],[-29.5,950,-27.3,940,-25.2,950],
[23.9,50,27,53,27.7,70,25.9,82,22.9,93,18.4,104,15.1,120,12,150,12,178,5,197,-1,205,-3.2,222,-6.4,250,-7.1,298,-6.9,352,-4.1,420,-1.1,450,7.4,470,11.3,497,13,555,15.4,605,18.1,650,13.9,678,8,718,6.5,748,5.8,803,5.9,860,8,950],
[35,56,31.1,59.5,30,63,28,82,25.9,94,22.9,107,19.9,112,16.6,124],
[35,175,28.9,190,22.9,207,18.1,228,16.9,250,16.2,298,16.6,350,18.4,405,22.9,434,28.9,455,31.3,500,30.1,555,30.5,605,25,652,25.9,720,27,790,27,850,29.5,950],
[13,207,14.5,298,14.6,355,16,432,22.9,460,27.8,500,25.6,568,22.9,606,16.9,555,15.1,480,13.9,464,8,450,-1,430,-2.6,393,-4.9,350,-5.2,298,-3.5,247,2,220,5,215,13,207],
[-3.2,298,-1.4,260,-.4,250,5,233,9.5,245,11.3,262,12.7,298,12.2,370,11,398,5,408,-1,378,-2.3,350,-3.2,298],
[-1,298,.4,277,5,260,8.9,273,10.7,298,9.9,347,5.9,376,.4,355,-1,298],
[2.2,298,5,288,7.9,298,6,330,4.1,325,2.2,298],
[35,65,32.4,70,33.3,78,35,82],
[14.3,150,15.3,163,16.9,175,18,186,22.9,183,28,175,32.8,155,35,140],[14.3,150,16.6,125,21.4,106],
[35,59,31.9,65,30.7,70,30,97,19.6,125,17.5,150,19.9,157,22.9,163,28.9,150,32.8,125,32.9,100,35,97],
[8,950,7.2,860,8,800,8.9,768,13.9,725,21.4,725,25,785,25.7,860,26.5,950],
[9,950,8.6,860,8.9,805,11,772,20.8,772,23.2,805,24.1,890,25,950],
[10.1,950,10,850,10.8,805,16.9,790,20.9,805,22.4,890,23.2,950],
[12.7,950,11.9,840,13.3,812,16.9,805,18.7,830,20.2,890,21,950],
[14.7,950,15.4,915,17.5,920,21,950]];
const bomDash=[
[-35,60,-31.6,58,-29.2,54,-27.4,50.5],
[-34.7,72,-31.6,77,-29.5,86,-27.8,98,-30.7,104,-35,121],
[-34.7,85,-31.9,93,-30.5,99,-30.7,100,-35,113],
[-34.4,97,-33.7,100,-34.6,102],
[-32.8,452,-31.2,408,-31.1,383,-31.7,298,-30,265,-29,232,-27,207,-24,188,-19.4,172,-14.8,163,-13,149,-11.1,127,-8.7,115,-3.5,100,-2.6,95,.5,87,2,78,4.1,70,2,65,-1,62,-3.2,58,-4.5,50],
[-.1,50.5,2,53,5,59,7.1,65,7.7,70.5,8,83,8.6,93,9.5,95,13.9,95,18.4,88,22.9,78,24.6,70,22.9,63,19.9,58,15.7,54,11.4,51],
[16,50.5,19.9,54,23.2,58,25.3,63,26.2,70,23.8,81,19.9,92,14.5,103,13,110,12.2,125,9.5,160,8,175,-1,195,-2.6,195,-7.6,208,-9,245,-9,298,-9,350,-8.2,400,-8.5,448,-8.1,465,-2.6,480,5,483,8,520,11.6,605,11.3,650,8,680,3.5,750,4.4,850,5.9,950],
[10.4,70,11.6,77,13.3,80,15.4,81,18.4,78,22.7,70],
[13.9,70,15.4,68.5,17.5,68.5,19.6,70,16.9,72,15.1,71,13.9,70],
[-11.5,152,-11.1,165,-10.2,172,-5.6,182,-1,180,2,177,6.5,172,8,165,9.3,147,10.5,125,9.5,108,8,102,5,100,-1,103,-4.1,108,-7.2,112,-9,120,-9.9,129,-11.5,152],
[-9.3,148,-8.4,125,-5.6,115,-1,109,5,110,8.6,121,6.5,142,2.9,150,-1,162,-4.1,163,-8.1,156,-9.3,148],
[-6.3,148,-6.1,125,-2.6,119,-1,118,5,118,6.7,125,5,135,1.4,153,-1,155,-2.6,157,-6,152,-6.3,148],
[-3.1,124,-1,123,3.8,125,1.4,133,-1,137,-1.7,136,-3.1,124],
[-27.9,300,-26.4,250,-24,227,-19.4,208,-14.8,207,-13.3,215,-11.2,298,-11.6,400,-14.8,440,-20.9,470,-26.4,468,-27.9,450,-27.3,408,-27.9,300],
[-24.3,298,-20.9,258,-18.5,253,-14.8,278,-13.8,300,-15.1,365,-18.8,400,-21.2,395,-24,345,-24.3,298],
[35,216,28.9,225,24.4,247,20.5,290,20.8,325,22.9,365,28.9,398,35,425],
[23,298,25.9,270,29.8,262,32.4,270,33.8,298,33.8,350,31.9,368,28.9,375,24.7,345,23,298],
[35,186,28.9,200,22.9,225,19.3,260,18.1,298,18.7,343,21.4,380,28.9,425,33,452,34.7,500,33.9,545,34.5,570],
[35,640,30.4,695,29.6,730,29.6,765,28.6,850,30.7,945],
[34.5,735,34.5,755,31.9,780,30.7,830,32.9,950],
[35,825,33.3,860,35,880],
[-32.8,452,-29.2,520,-25.8,540,-19.4,520,-11.8,508,-8.4,530,-5.6,575,-1.5,650],
[-16.6,945,-18.8,890,-18.5,805,-18.5,750,-11.8,730,-5.6,705,-1.7,650],
[-16.8,860,-14.8,795,-8.7,755,-1,755,2,825,2.9,870,1,910],
[-14.8,880,-11.8,805,-5.6,790,-1,805,1.4,890,2,950],
[-12.8,915,-8.7,835,-2.6,850,.5,890,1.4,950],
[-10.7,950,-7.2,870,-1.4,915,-.2,950],
[-.1,548,2,545,4.4,555,6.5,606,2,615,-.1,548]];

const panels=[
 {title:'Grand Cayman, Cayman Is. (19N, 81W)',titleColor:'#FFD778',frameColor:'#FFFF22',frame:[779.5,30,1291,880],titleX:1412,titleY:118,grid:[932,231,993,595],dark:caymanDark,light:caymanLight,solid:caymanSolid,dash:caymanDash},
 {title:'Manaus, Brazil (3S, 60W)',titleColor:'#FF6410',frameColor:'#F67F18',frame:[76,1017,1291,879],titleX:725,titleY:1106,grid:[224,1212,996,598],dark:manausDark,light:manausLight,solid:manausSolid,dash:manausDash},
 {title:'Dakar, Senegal (15N, 18W)',titleColor:'#FF6410',frameColor:'#F67F18',frame:[1467,1017,1292,879],titleX:2116,titleY:1106,grid:[1617,1212,995,596],dark:dakarDark,light:dakarLight,solid:dakarSolid,dash:dakarDash},
 {title:'Hilo, Hawaii (20N, 155W)',titleColor:'#FF6410',frameColor:'#F67F18',frame:[76,1998,1291,900],titleX:725,titleY:2087,grid:[223,2191,1001,600],dark:hiloDark,light:hiloLight,solid:hiloSolid,dash:hiloDash},
 {title:'Bom Jesus de Lapa, Brazil (13S, 43W)',titleColor:'#6F2BE0',frameColor:'#7E48DC',frame:[1467,1998,1292,900],titleX:2116,titleY:2087,grid:[1617,2196,995,595],dark:bomDark,light:bomLight,solid:bomSolid,dash:bomDash}];

const grids=[],xAxes=[],yAxes=[],series=[],graphics=[];
const font='"Liberation Sans",Arial,sans-serif';
const toPairs=f=>{const o=[];for(let i=0;i<f.length;i+=2)o.push([f[i],f[i+1]]);return o;};
panels.forEach((pn,i)=>{
  const g=pn.grid;
  grids.push({left:g[0],top:g[1],width:g[2],height:g[3],containLabel:false,show:false});
  graphics.push({type:'rect',z:1,shape:{x:pn.frame[0],y:pn.frame[1],width:pn.frame[2],height:pn.frame[3]},
    style:{fill:'none',stroke:pn.frameColor,lineWidth:6,shadowBlur:6,shadowColor:'rgba(0,0,0,0.35)',shadowOffsetY:2}});
  graphics.push({type:'text',z:2,style:{x:pn.titleX,y:pn.titleY,text:pn.title,fill:pn.titleColor,font:'bold 64px "Liberation Serif",serif',textAlign:'center',textVerticalAlign:'middle'}});
  const xBase={type:'value',gridIndex:i,min:-35,max:35,interval:5,splitLine:{show:false},axisLine:{onZero:false,lineStyle:{color:'#000',width:3}}};
  const majorIndex=xAxes.length;
  xAxes.push(Object.assign({},xBase,{position:'bottom',axisTick:{customValues:lagMajor,length:23,lineStyle:{color:'#000',width:3}},axisLabel:{customValues:lagMajor,margin:42,color:'#000',fontSize:28,fontFamily:font}}));
  xAxes.push(Object.assign({},xBase,{position:'bottom',axisTick:{length:12,lineStyle:{color:'#000',width:1.5}},axisLabel:{show:false}}));
  xAxes.push(Object.assign({},xBase,{position:'top',axisTick:{customValues:lagMajor,length:22,lineStyle:{color:'#000',width:3}},axisLabel:{show:false}}));
  xAxes.push(Object.assign({},xBase,{position:'top',axisTick:{length:10,lineStyle:{color:'#000',width:1.5}},axisLabel:{show:false}}));
  const yIndex=yAxes.length;
  const yBase={type:'log',logBase:10,gridIndex:i,min:50,max:1000,inverse:true,splitLine:{show:false},minorTick:{show:false},axisLine:{onZero:false,lineStyle:{color:'#000',width:3}}};
  yAxes.push(Object.assign({},yBase,{position:'left',axisTick:{customValues:pressureTicks,length:22,lineStyle:{color:'#000',width:2.5}},axisLabel:{customValues:pressureTicks,margin:42,padding:[3,0,0,0],color:'#000',fontSize:28,fontFamily:font,formatter:v=>{const p=v<10?Math.pow(10,v):v;return String(Math.round(p));}}}));
  yAxes.push(Object.assign({},yBase,{position:'right',axisTick:{customValues:heightPressure,length:22,lineStyle:{color:'#000',width:2.5}},axisLabel:{customValues:heightPressure,margin:42,padding:[3,0,0,0],color:'#000',fontSize:28,fontFamily:font,formatter:v=>{const p=v<10?Math.pow(10,v):v;let b=0;heightPressure.forEach((h,k)=>{if(Math.abs(h-p)<Math.abs(heightPressure[b]-p))b=k;});return String(heightKm[b]);}}}));
  const add=(list,kind)=>{
    series.push({type:'custom',coordinateSystem:'cartesian2d',xAxisIndex:majorIndex,yAxisIndex:yIndex,clip:true,silent:true,animation:false,
      z:kind==='dark'||kind==='light'?2:3,encode:{x:0,y:1},
      data:list.map(f=>[f[0],f[1]]),
      renderItem:(params,api)=>{
        const pts=toPairs(list[params.dataIndex]).map(p=>api.coord(p));
        if(kind==='dark'||kind==='light')return{type:'polygon',shape:{points:pts,smooth:0.2},style:{fill:kind==='dark'?'#6e6e6e':'#bdbdbd',stroke:null}};
        return{type:'polyline',shape:{points:pts,smooth:0.2},style:{fill:null,stroke:kind==='dash'?'#111':'#000',lineWidth:kind==='dash'?1.2:1.3,lineDash:kind==='dash'?[7,7]:null}};
      }});
  };
  add(pn.light,'light');add(pn.dark,'dark');add(pn.dash,'dash');add(pn.solid,'solid');
});
const chart=echarts.init(document.getElementById('c'),null,{renderer:'canvas',width:2765,height:2864});
chart.setOption({backgroundColor:'#fff',animation:false,grid:grids,xAxis:xAxes,yAxis:yAxes,series:series,graphic:graphics});
</script></body></html>
